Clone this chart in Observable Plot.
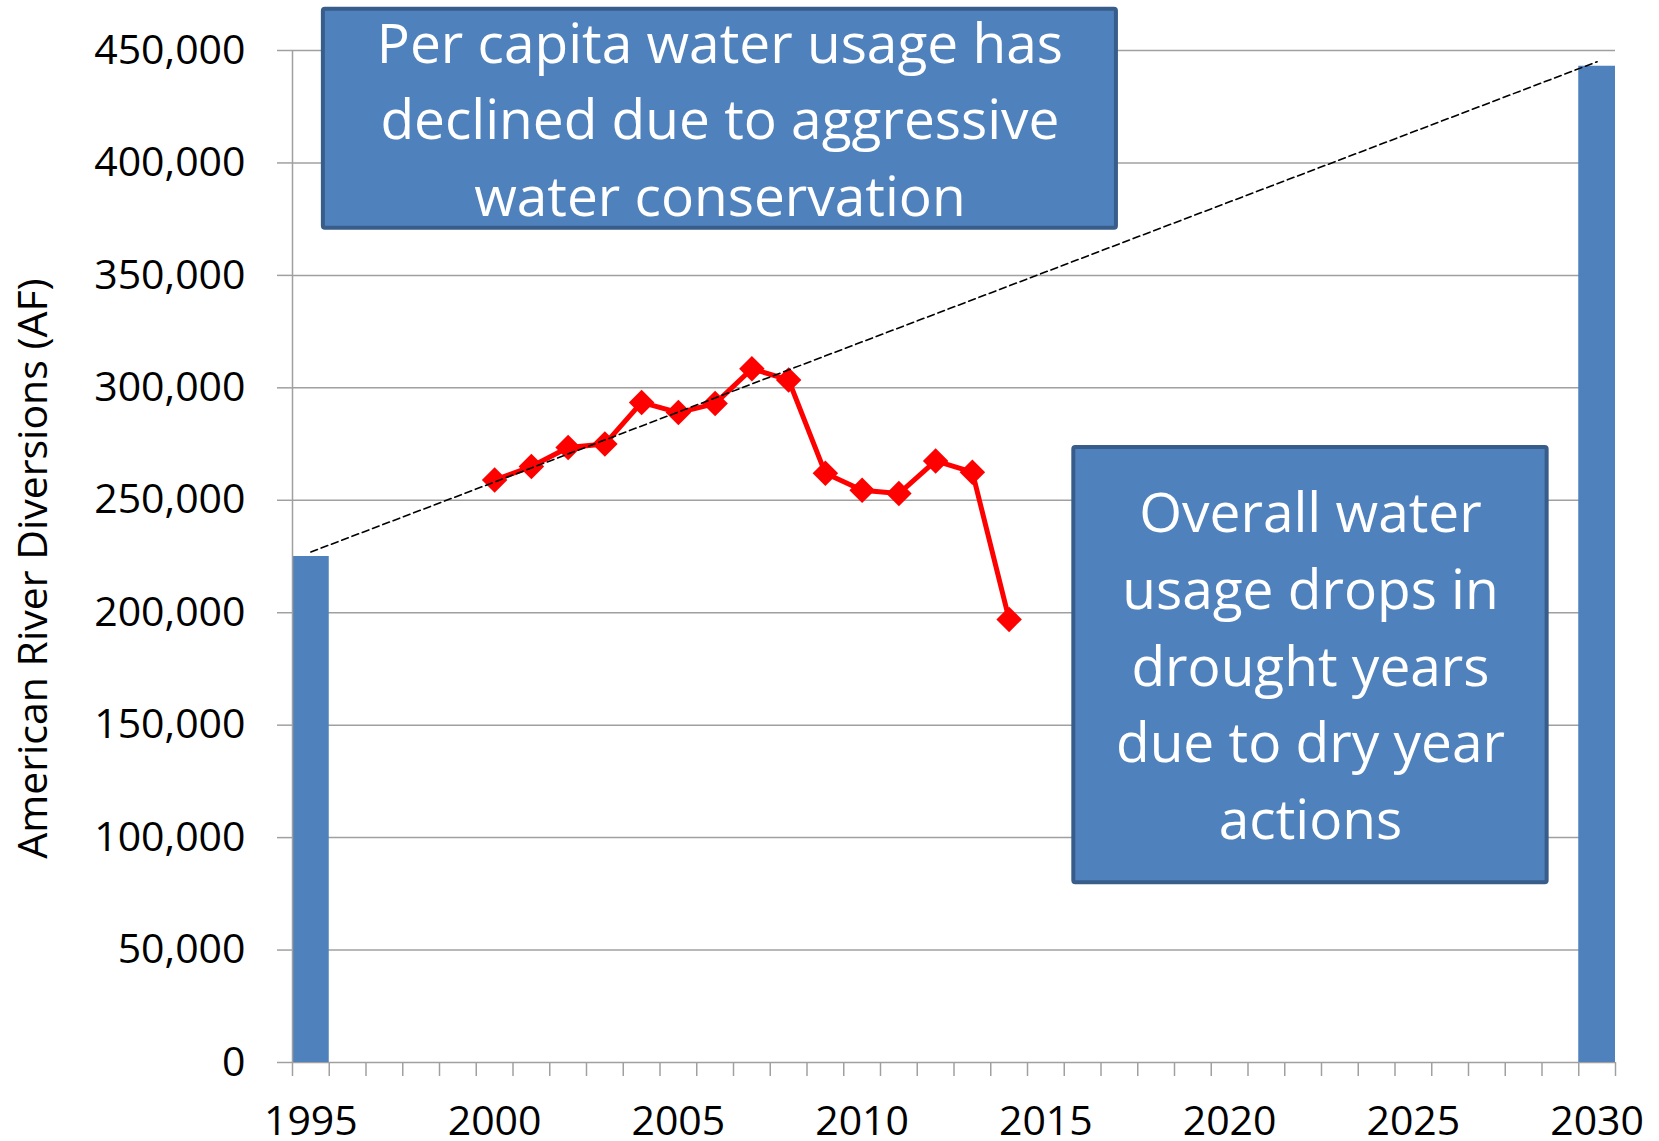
<!DOCTYPE html>
<html>
<head>
<meta charset="utf-8">
<script src="https://cdn.jsdelivr.net/npm/d3@7"></script>
<script src="https://cdn.jsdelivr.net/npm/@observablehq/plot@0.6"></script>
<style>
  html, body { margin: 0; padding: 0; background: #ffffff; }
  #chart svg { display: block; }
</style>
</head>
<body>
<div id="chart"></div>
<script>
// American River diversions (acre-feet)

// Benchmark years shown as bars
const barYears = [1995, 2030];
const barValues = [225000, 443000];

// Annual diversions, 2000–2014
const lineYears = [2000, 2001, 2002, 2003, 2004, 2005, 2006, 2007, 2008, 2009, 2010, 2011, 2012, 2013, 2014];
const lineValues = [259000, 265000, 273500, 275000, 293500, 289000, 293000, 308500, 303500, 262000, 254500, 253000, 267500, 262500, 197000];

// Straight-line growth path between the two benchmarks
const trendYears = [1995, 2030];
const trendValues = [227000, 445000];

// Axis ticks
const yTicks = [0, 50000, 100000, 150000, 200000, 250000, 300000, 350000, 400000, 450000];
const xLabelYears = [1995, 2000, 2005, 2010, 2015, 2020, 2025, 2030];
const firstYear = 1995;
const lastYear = 2030;

// Callout texts
const noteTexts = [
  "Per capita water usage has\ndeclined due to aggressive\nwater conservation",
  "Overall water\nusage drops in\ndrought years\ndue to dry year\nactions"
];

// Callout placement, in chart units (year, acre-feet)
const noteLayout = [
  {x1: 1995.34, x2: 2016.92, y1: 468300, y2: 371000},
  {x1: 2015.76, x2: 2028.64, y1: 273500, y2: 79900}
];

const bars = barYears.map((year, i) => ({year, value: barValues[i]}));
const series = lineYears.map((year, i) => ({year, value: lineValues[i]}));
const trend = trendYears.map((year, i) => ({year, value: trendValues[i]}));
const notes = noteTexts.map((text, i) => ({text, ...noteLayout[i]}));

// category boundaries: one slot per year
const boundaries = d3.range(firstYear - 0.5, lastYear + 1, 1);

const gray = "#a0a0a0";
const blue = "#4f81bd";
const font = "'Open Sans', 'Noto Sans', sans-serif";

const chart = Plot.plot({
  width: 1659,
  height: 1141,
  marginLeft: 292,
  marginRight: 44,
  marginTop: 50,
  marginBottom: 79,
  style: {fontFamily: font, fontSize: "41px", color: "#000", background: "#fff", overflow: "visible"},
  x: {type: "linear", domain: [firstYear - 0.5, lastYear + 0.5]},
  y: {domain: [0, 450000]},
  marks: [
    Plot.ruleY(yTicks, {stroke: gray, strokeWidth: 1.5}),
    Plot.rectY(bars, {x1: d => d.year - 0.5, x2: d => d.year + 0.5, y: "value", fill: blue}),
    Plot.ruleX([firstYear - 0.5], {stroke: gray, strokeWidth: 1.5}),
    Plot.axisY({ticks: yTicks, tickSize: 15, tickPadding: 32, tickFormat: d3.format(","), stroke: gray, strokeWidth: 1.5, fontSize: 41, label: null}),
    Plot.axisX({ticks: boundaries, tickSize: 14, tickFormat: () => "", stroke: gray, strokeWidth: 1.5, label: null}),
    Plot.axisX({ticks: xLabelYears, tickSize: 0, tickPadding: 43, tickFormat: d => String(d), fontSize: 41, label: null}),
    Plot.text(["American River Diversions (AF)"], {frameAnchor: "left", textAnchor: "middle", rotate: -90, dx: -259, dy: 12, fontSize: 41, fill: "#000"}),
    Plot.line(series, {x: "year", y: "value", stroke: "#ff0000", strokeWidth: 5, strokeLinejoin: "round"}),
    Plot.dot(series, {x: "year", y: "value", symbol: "diamond2", r: 11.5, fill: "#ff0000", stroke: null}),
    Plot.line(trend, {x: "year", y: "value", stroke: "#000", strokeWidth: 1.6, strokeDasharray: "7,4"}),
    Plot.rect(notes, {x1: "x1", x2: "x2", y1: "y1", y2: "y2", fill: blue, stroke: "#385d8a", strokeWidth: 4, rx: 2}),
    Plot.text(notes, {x: d => (d.x1 + d.x2) / 2, y: d => (d.y1 + d.y2) / 2, text: "text", fill: "#fff", fontSize: 55, lineHeight: 1.395, dy: -4})
  ]
});

document.getElementById("chart").appendChild(chart);
</script>
</body>
</html>
